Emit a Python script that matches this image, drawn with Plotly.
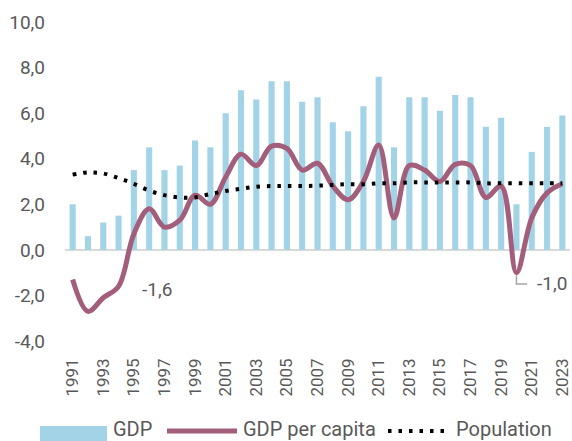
import plotly.graph_objects as go

years = list(range(1991, 2024))
gdp = [2.0, 0.6, 1.2, 1.5, 3.5, 4.5, 3.5, 3.7, 4.8, 4.5, 6.0, 7.0, 6.6, 7.4, 7.4,
       6.5, 6.7, 5.6, 5.2, 6.3, 7.6, 4.5, 6.7, 6.7, 6.1, 6.8, 6.7, 5.4, 5.8, 2.0,
       4.3, 5.4, 5.9]
gdp_pc = [-1.3, -2.7, -2.1, -1.6, 0.7, 1.8, 1.0, 1.3, 2.4, 2.0, 3.2, 4.2, 3.7, 4.55, 4.45,
          3.5, 3.8, 2.8, 2.2, 3.0, 4.6, 1.4, 3.7, 3.5, 3.0, 3.75, 3.7, 2.3, 2.8, -1.0,
          1.4, 2.5, 2.9]
population = [3.3, 3.4, 3.35, 3.15, 2.9, 2.6, 2.4, 2.3, 2.3, 2.45, 2.58, 2.68, 2.77, 2.8, 2.8,
              2.8, 2.82, 2.85, 2.88, 2.88, 2.92, 2.92, 2.96, 2.96, 2.96, 2.96, 2.96, 2.92, 2.92, 2.92,
              2.92, 2.92, 2.92]
y_ticks = [-4, -2, 0, 2, 4, 6, 8, 10]
x_ticks = years[::2]
series_names = ["GDP", "GDP per capita", "Population"]

TXT = "#595959"
FONT = "Roboto"
BAR_C = "#a3d3e6"
PC_C = "#a25e7a"
POP_C = "#000000"
POP_DASH = "3.5px,7px"

W, H = 572, 441
ML, MR, MT, MB = 65, 2, 22, 100
PW = W - ML - MR
PH = H - MT - MB


def fmt(v):
    return f"{v:.1f}".replace(".", ",")


def px(xpix):
    return (xpix - ML) / PW


def py(ypix):
    return (H - MB - ypix) / PH


fig = go.Figure()
fig.add_trace(go.Bar(x=years, y=gdp, name=series_names[0], marker_color=BAR_C,
                     marker_line_width=0, width=0.4))
fig.add_trace(go.Scatter(x=years, y=gdp_pc, name=series_names[1], mode="lines",
                         line=dict(color=PC_C, width=5, shape="spline", smoothing=1.0)))
fig.add_trace(go.Scatter(x=years, y=population, name=series_names[2], mode="lines",
                         line=dict(color=POP_C, width=4, shape="spline", dash=POP_DASH)))

# value labels
i94 = years.index(1994)
i20 = years.index(2020)
fig.add_annotation(x=1996.5, y=-1.75, text=fmt(gdp_pc[i94]), showarrow=False,
                   font=dict(family=FONT, size=19, color=TXT))
fig.add_annotation(x=2022.3, y=-1.47, text=fmt(gdp_pc[i20]), showarrow=False,
                   font=dict(family=FONT, size=19, color=TXT))
fig.add_shape(type="path", xref="x", yref="y",
              path=f"M 2020,{gdp_pc[i20]-0.12} L 2020,-1.5 L 2020.7,-1.5",
              line=dict(color="#a6a6a6", width=1.5))

# legend drawn below the axis
leg_y = 431
fig.add_shape(type="rect", xref="paper", yref="paper",
              x0=px(40), x1=px(107), y0=py(426), y1=py(446),
              fillcolor=BAR_C, line_width=0)
fig.add_shape(type="line", xref="paper", yref="paper",
              x0=px(167), x1=px(237), y0=py(leg_y), y1=py(leg_y),
              line=dict(color=PC_C, width=5))
fig.add_shape(type="line", xref="paper", yref="paper",
              x0=px(388), x1=px(450), y0=py(leg_y), y1=py(leg_y),
              line=dict(color=POP_C, width=4, dash=POP_DASH))
for name, xl in zip(series_names, [112, 242, 455]):
    fig.add_annotation(xref="paper", yref="paper", x=px(xl), y=py(429),
                       xanchor="left", yanchor="middle", text=name, showarrow=False,
                       borderpad=0, font=dict(family=FONT, size=20, color=TXT))

fig.update_layout(
    width=W, height=H,
    margin=dict(l=ML, r=MR, t=MT, b=MB, autoexpand=False),
    paper_bgcolor="white", plot_bgcolor="white",
    font=dict(family=FONT, color=TXT, size=17),
    showlegend=False,
    xaxis=dict(range=[1990.5, 2023.5], tickvals=x_ticks, ticktext=[str(t) for t in x_ticks],
               tickangle=-90, showgrid=False, zeroline=False, showline=False, automargin=False,
               ticks="", ticklabelstandoff=13, tickfont=dict(size=17, color=TXT)),
    yaxis=dict(range=[-4, 10], tickvals=y_ticks, ticktext=[fmt(t) for t in y_ticks],
               automargin=False,
               showgrid=False, zeroline=True, zerolinecolor="#d9d9d9", zerolinewidth=2,
               showline=False, ticks="", ticklabelstandoff=19,
               tickfont=dict(size=19, color=TXT)),
)

fig.write_html("out.html", config={"displayModeBar": False},
               post_script="document.body.style.margin='0';")
